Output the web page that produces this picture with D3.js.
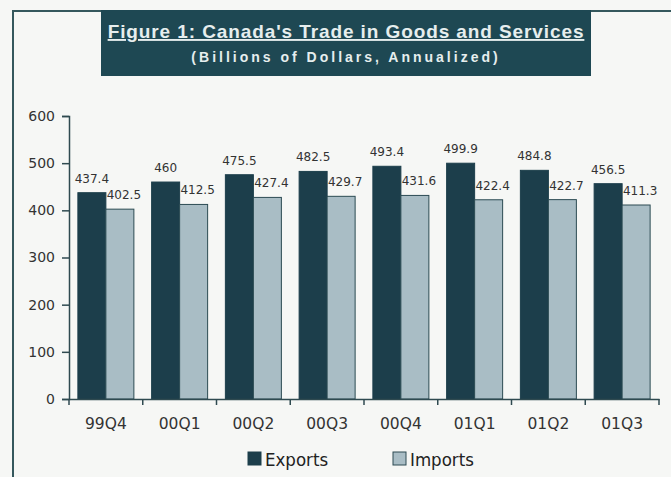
<!DOCTYPE html>
<html>
<head>
<meta charset="utf-8">
<script src="https://cdn.jsdelivr.net/npm/d3@7"></script>
<style>
  body { margin: 0; background: #f6f7f5; }
  svg { display: block; }
</style>
</head>
<body>
<svg width="671" height="477"></svg>
<script>
var quarters = ['99Q4', '00Q1', '00Q2', '00Q3', '00Q4', '01Q1', '01Q2', '01Q3'];
var exportsVals = [437.4, 460, 475.5, 482.5, 493.4, 499.9, 484.8, 456.5];
var importsVals = [402.5, 412.5, 427.4, 429.7, 431.6, 422.4, 422.7, 411.3];
var yTicks = [0, 100, 200, 300, 400, 500, 600];
var seriesNames = ['Exports', 'Imports'];

var colors = {'Exports': '#1c3e4b', 'Imports': '#a9bdc5'};
var ink = '#333';
var frameCol = '#35585d';

var svg = d3.select('svg');

// frame round the figure
svg.append('path')
  .attr('d', 'M13,477 L13,11 L671,11')
  .attr('fill', 'none')
  .attr('stroke', frameCol)
  .attr('stroke-width', 2);

// title box
svg.append('rect')
  .attr('x', 101).attr('y', 10)
  .attr('width', 490).attr('height', 66)
  .attr('fill', '#1e4853');

svg.append('text')
  .attr('x', 346).attr('y', 38)
  .attr('text-anchor', 'middle')
  .style('font-family', '"Liberation Sans", Arial, sans-serif')
  .style('font-weight', 'bold')
  .style('font-size', '19px')
  .style('letter-spacing', '0.9px')
  .style('text-decoration', 'underline')
  .attr('fill', '#e6eeee')
  .text("Figure 1: Canada's Trade in Goods and Services");

svg.append('text')
  .attr('x', 346).attr('y', 62)
  .attr('text-anchor', 'middle')
  .style('font-family', '"Liberation Sans", Arial, sans-serif')
  .style('font-weight', 'bold')
  .style('font-size', '14px')
  .style('letter-spacing', '3px')
  .attr('fill', '#e6eeee')
  .text('(Billions of Dollars, Annualized)');

// plot area
var plotL = 69, plotR = 659, plotT = 116, plotB = 399;

var x = d3.scaleBand()
  .domain(quarters)
  .range([plotL, plotR])
  .paddingInner(0)
  .paddingOuter(0);

var barW = 28;
var inset = (x.bandwidth() - 2 * barW) / 2;

var y = d3.scaleLinear()
  .domain([0, 600])
  .range([plotB, plotT]);

var rows = quarters.map(function(q, i) {
  return {q: q, Exports: exportsVals[i], Imports: importsVals[i]};
});

var groups = svg.append('g')
  .selectAll('g')
  .data(rows)
  .enter()
  .append('g')
  .attr('transform', function(d) { return 'translate(' + (x(d.q) + inset) + ',0)'; });

seriesNames.forEach(function(s, si) {
  groups.append('rect')
    .attr('x', si * barW)
    .attr('y', function(d) { return y(d[s]); })
    .attr('width', barW)
    .attr('height', function(d) { return plotB - y(d[s]); })
    .attr('fill', colors[s])
    .attr('stroke', si == 1 ? '#2c4b53' : colors[s])
    .attr('stroke-width', 1);

  groups.append('text')
    .attr('x', si * barW + barW / 2 + (si == 1 ? 4 : 0))
    .attr('y', function(d) { return y(d[s]) - 10; })
    .attr('text-anchor', 'middle')
    .style('font-family', '"DejaVu Sans", Verdana, sans-serif')
    .style('font-size', '12px')
    .attr('fill', ink)
    .text(function(d) { return d[s]; });
});

// y axis
var yAxis = svg.append('g')
  .attr('transform', 'translate(' + plotL + ',0)')
  .call(d3.axisLeft(y).tickValues(yTicks).tickSize(7).tickPadding(7));

// x axis with ticks on band edges
var xAxis = svg.append('g')
  .attr('transform', 'translate(0,' + plotB + ')')
  .call(d3.axisBottom(x).tickSize(0).tickPadding(19));

var edges = quarters.map(function(q) { return x(q); }).concat([plotR]);
svg.append('g')
  .selectAll('line')
  .data(edges)
  .enter()
  .append('line')
  .attr('x1', function(d) { return d; })
  .attr('x2', function(d) { return d; })
  .attr('y1', plotB)
  .attr('y2', plotB + 6)
  .attr('stroke', '#2f4a50')
  .attr('stroke-width', 1.5);

[yAxis, xAxis].forEach(function(ax) {
  ax.select('.domain').attr('stroke', '#2f4a50').attr('stroke-width', 1.5);
  ax.selectAll('.tick line').attr('stroke', '#2f4a50').attr('stroke-width', 1.5);
  ax.selectAll('.tick text')
    .attr('fill', ink)
    .style('font-family', '"DejaVu Sans", Verdana, sans-serif');
});
yAxis.selectAll('.tick text').style('font-size', '14px');
xAxis.selectAll('.tick text').style('font-size', '15.5px');

// legend
var legendX = [248, 393];
var legend = svg.append('g')
  .selectAll('g')
  .data(seriesNames)
  .enter()
  .append('g')
  .attr('transform', function(d, i) { return 'translate(' + legendX[i] + ',452)'; });

legend.append('rect')
  .attr('width', 13).attr('height', 13)
  .attr('fill', function(d) { return colors[d]; })
  .attr('stroke', function(d, i) { return i == 1 ? '#2c4b53' : colors[d]; });

legend.append('text')
  .attr('x', 17).attr('y', 14)
  .style('font-family', '"DejaVu Sans Condensed", "DejaVu Sans", sans-serif')
  .style('font-size', '18.5px')
  .attr('fill', '#222')
  .text(function(d) { return d; });
</script>
</body>
</html>
